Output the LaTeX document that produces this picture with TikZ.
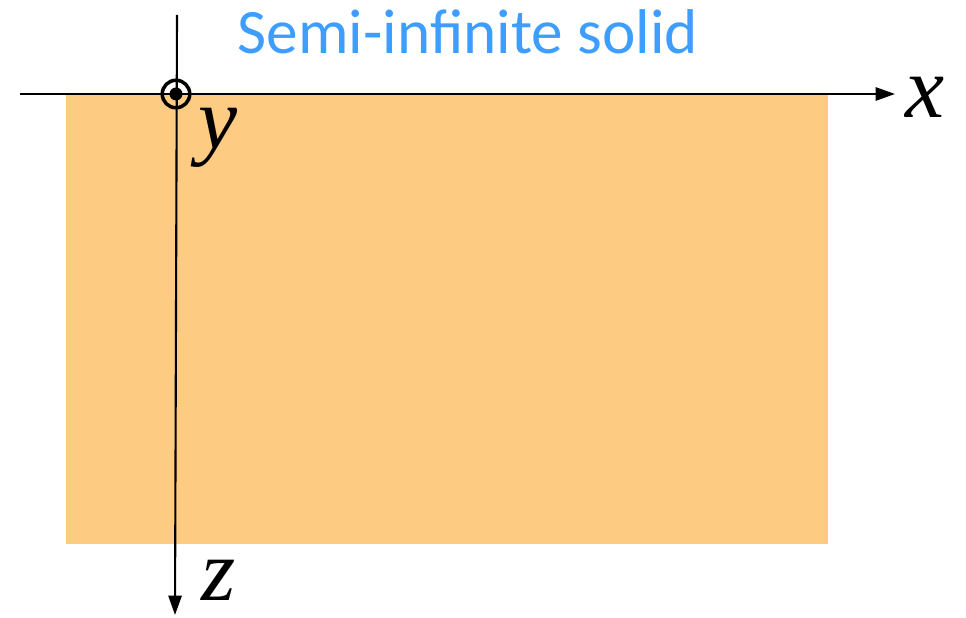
\documentclass[tikz,border=0pt]{standalone}
\usepackage{fontspec}
\setmainfont{Liberation Serif}
\newfontfamily\titlefont{Carlito}
\usetikzlibrary{arrows.meta}
\definecolor{solidfill}{RGB}{254,203,130}
\definecolor{titleblue}{RGB}{61,158,255}
\tikzset{
  axis/.style={line width=1.2pt, -{Triangle[length=11pt,width=7.5pt]}},
  axislabel/.style={font=\fontsize{50}{50}\selectfont\itshape, inner sep=0pt}
}
\begin{document}
\begin{tikzpicture}[x=0.02cm, y=-0.02cm]
        \useasboundingbox (0,0) rectangle (966,618);
        % Solid
        \fill[solidfill] (66,94) rectangle (828,544);

        % Nodes
        \coordinate (xs) at (20,94);
        \coordinate (xe) at (895,94);
        \coordinate (zs) at (177,15);
        \coordinate (ze) at (175,615);
        \node (O) at (176,94) [circle, draw, line width=2pt, inner sep=0pt, minimum size=0.55cm] {};
        \node (dot) at (176,94) [circle, fill, inner sep=0pt, minimum size=0.26cm] {};
        \node (x) at (925,97) [axislabel] {x};
        \node (y) at (218,138) [axislabel] {y};
        \node (z) at (219,580) [axislabel] {z};
        \node (title) at (468,32) [text=titleblue, font=\titlefont\fontsize{36}{36}\selectfont] {Semi-infinite solid};

        % Axes
        \draw[axis] (xs) -- (xe);
        \draw[axis] (zs) -- (ze);
      \end{tikzpicture}
\end{document}
